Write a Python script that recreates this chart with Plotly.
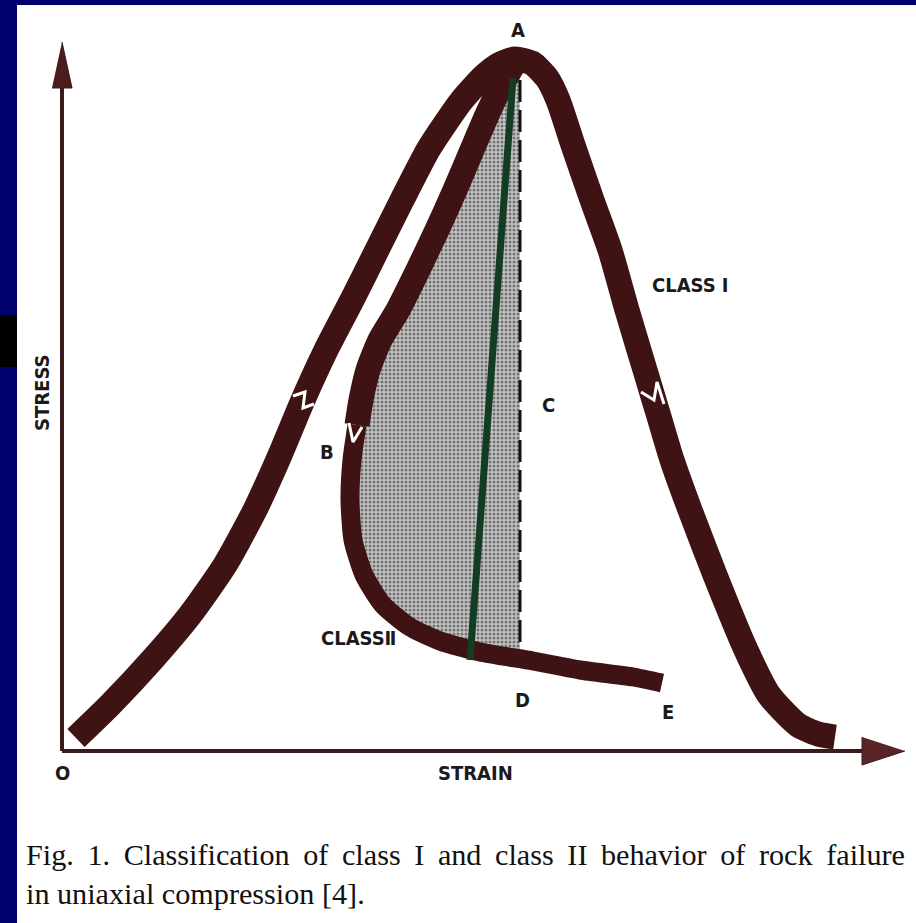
import plotly.graph_objects as go

# schematic stress-strain curves (strain, stress in arbitrary units)
class1_strain = [1.4, 4.8, 9.0, 12.8, 16.3, 19.3, 21.8, 24.1, 26.4, 29.0, 31.5, 34.0, 36.6, 38.3, 40.0, 42.2,
                 43.8, 45.3, 47.0, 48.5, 49.6, 51.1, 53.0, 54.8, 56.5, 58.3, 59.8, 61.0, 62.8, 65.3, 68.4,
                 70.7, 73.6, 75.6, 77.3]
class1_stress = [1.0, 4.3, 8.8, 13.3, 18.3, 23.8, 29.3, 34.8, 39.8, 44.8, 49.8, 54.8, 59.8, 62.4, 64.8, 67.2,
                 68.4, 68.9, 68.5, 67.0, 64.8, 60.3, 54.8, 49.8, 43.8, 37.8, 32.8, 28.8, 23.8, 17.3, 9.8,
                 5.3, 2.3, 1.4, 1.1]

class2_upper_strain = [45.3, 43.8, 42.5, 41.0, 39.3, 37.5, 35.6, 33.6, 31.8, 30.6, 29.9, 29.5]
class2_upper_stress = [68.6, 66.0, 63.3, 59.8, 55.8, 51.8, 47.8, 43.8, 40.8, 37.8, 34.8, 32.3]
class2_lower_strain = [29.5, 29.0, 28.8, 29.1, 30.2, 32.1, 34.8, 37.8, 41.8, 47.1, 51.8, 57.1, 60.0]
class2_lower_stress = [32.3, 28.8, 24.8, 20.8, 17.3, 14.3, 12.1, 10.7, 9.6, 8.7, 7.8, 7.1, 6.5]

# unloading line A -> class II curve, and vertical A-C-D
unload_strain = [45.1, 40.8]
unload_stress = [67.0, 8.8]
vert_strain = [45.8, 45.8]
vert_stress = [66.8, 9.3]

# little break marks on the bands
breaks = [
    ([23.1, 24.3, 24.1, 25.2], [35.2, 35.6, 34.0, 34.4]),
    ([57.9, 59.2, 59.5, 60.2], [35.6, 34.8, 36.6, 34.4]),
    ([28.7, 29.1, 30.0], [32.5, 30.6, 32.1]),
]

labels = {
    "A": (45.6, 71.8), "B": (26.5, 29.6), "C": (48.6, 34.3), "D": (46.0, 4.8),
    "E": (60.6, 3.6), "O": (0.0, -2.5), "STRAIN": (41.3, -2.5),
    "CLASS Ⅰ": (62.8, 46.3), "CLASSⅡ": (29.6, 11.0),
}

caption = ["Fig. 1. Classification of class I and class II behavior of rock failure",
           "in uniaxial compression [4]."]

BAND = "#3f1313"
NAVY = "#00006e"
LABEL_FONT = dict(family="Liberation Sans Narrow, DejaVu Sans Condensed, DejaVu Sans", size=20, color="#1a1a1a")

fig = go.Figure()

# shaded region between class II curve and the vertical line
cut = 9
shade_x = class2_upper_strain + class2_lower_strain[1:cut] + [vert_strain[1], vert_strain[0]]
shade_y = class2_upper_stress + class2_lower_stress[1:cut] + [8.9, vert_stress[0]]
fig.add_trace(go.Scatter(
    x=shade_x, y=shade_y, mode="lines", fill="toself",
    line=dict(width=0, color="#aaaaaa"),
    fillcolor="#b0b0b0",
    fillpattern=dict(shape=".", fgcolor="#222222", bgcolor="#c4c4c4", size=4, solidity=0.45),
    hoverinfo="skip"))

# the vertical dashed line
fig.add_trace(go.Scatter(x=vert_strain, y=vert_stress, mode="lines",
                         line=dict(color="#111111", width=3, dash="22px,8px")))

# class I band
fig.add_trace(go.Scatter(x=class1_strain, y=class1_stress, mode="lines",
                         line=dict(color=BAND, width=25, shape="spline", smoothing=0.6)))
# class II bands
fig.add_trace(go.Scatter(x=class2_upper_strain, y=class2_upper_stress, mode="lines",
                         line=dict(color=BAND, width=25, shape="spline", smoothing=0.6)))
fig.add_trace(go.Scatter(x=class2_lower_strain, y=class2_lower_stress, mode="lines",
                         line=dict(color=BAND, width=19, shape="spline", smoothing=0.6)))

# green unloading line
fig.add_trace(go.Scatter(x=unload_strain, y=unload_stress, mode="lines",
                         line=dict(color="#123d24", width=7)))

for bx, by in breaks:
    fig.add_trace(go.Scatter(x=bx, y=by, mode="lines", line=dict(color="white", width=3)))

# axes with arrowheads
ax_col = "#3a1a1a"
fig.add_trace(go.Scatter(x=[0, 0], y=[-0.3, 66.0], mode="lines", line=dict(color=ax_col, width=4)))
fig.add_trace(go.Scatter(x=[0, 80.0], y=[-0.3, -0.3], mode="lines", line=dict(color=ax_col, width=4)))
fig.add_trace(go.Scatter(x=[-1.0, 1.0, 0.0], y=[66.0, 66.0, 70.6], mode="lines", fill="toself",
                         fillcolor="#4a1c1c", line=dict(color=ax_col, width=1)))
fig.add_trace(go.Scatter(x=[80.0, 80.0, 84.3], y=[1.1, -1.7, -0.3], mode="lines", fill="toself",
                         fillcolor="#5a2424", line=dict(color=ax_col, width=1)))

for txt, (lx, ly) in labels.items():
    fig.add_annotation(x=lx, y=ly, text="<b>%s</b>" % txt, showarrow=False, font=LABEL_FONT)
fig.add_annotation(x=-2.0, y=35.5, text="<b>STRESS</b>", textangle=-90, showarrow=False, font=LABEL_FONT)

for i, line in enumerate(caption):
    if i == 0:
        line = line.replace(" ", " \u2009")
    fig.add_annotation(x=-3.8, y=-10.7 - 3.9 * i, text=line, showarrow=False, xanchor="left",
                       font=dict(family="Liberation Serif", size=30.2, color="#111111"))

fig.update_layout(
    width=916, height=923,
    margin=dict(l=0, r=0, t=0, b=0),
    paper_bgcolor=NAVY, plot_bgcolor="rgba(0,0,0,0)",
    showlegend=False,
    shapes=[
        dict(type="rect", xref="paper", yref="paper", x0=17 / 916, x1=1.01, y0=-0.01, y1=1 - 5 / 923,
             fillcolor="white", line=dict(width=0), layer="below"),
        dict(type="rect", xref="paper", yref="paper", x0=-0.01, x1=17 / 916, y0=1 - 367 / 923, y1=1 - 315 / 923,
             fillcolor="black", line=dict(width=0), layer="below"),
    ],
    xaxis=dict(range=[-6.2, 85.4], visible=False, fixedrange=True),
    yaxis=dict(range=[-17.5, 74.8], visible=False, fixedrange=True),
)

# page body has a default margin; drop it so the figure fills the window
fig.write_html("out.html", config={"displayModeBar": False},
               post_script="document.body.style.margin='0';")
